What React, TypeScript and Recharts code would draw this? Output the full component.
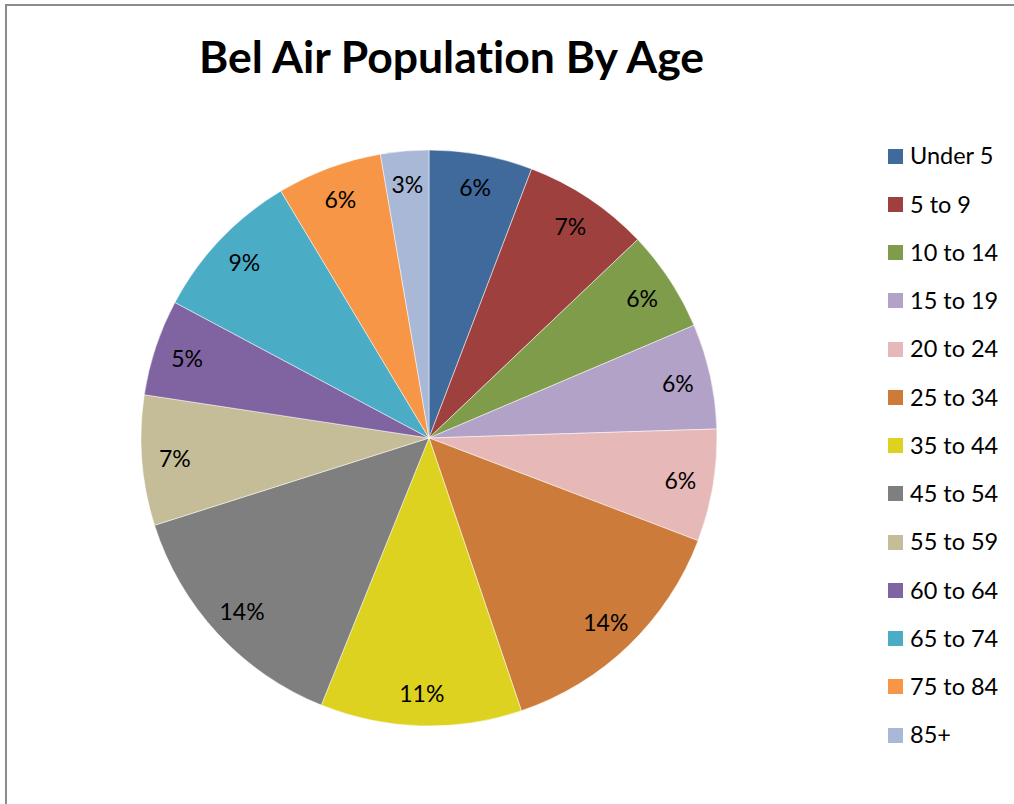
import { PieChart, Pie, Cell } from 'recharts';

const ageGroups = [
  'Under 5',
  '5 to 9',
  '10 to 14',
  '15 to 19',
  '20 to 24',
  '25 to 34',
  '35 to 44',
  '45 to 54',
  '55 to 59',
  '60 to 64',
  '65 to 74',
  '75 to 84',
  '85+',
];

// share of population, percent
const shares = [5.8, 7.1, 5.7, 5.9, 6.3, 14.0, 11.3, 14.0, 7.3, 5.4, 8.6, 5.9, 2.7];

const sliceColors = [
  '#3F6A9B',
  '#9E413E',
  '#7E9C4A',
  '#B3A2C7',
  '#E6B9B8',
  '#CD7B3A',
  '#DDD21F',
  '#7F7F7F',
  '#C4BD97',
  '#8064A2',
  '#4BACC6',
  '#F79646',
  '#A9B8D7',
];

const chartData = ageGroups.map((name, i) => ({ name, value: shares[i] }));

const FONT = 'Lato, "Open Sans", sans-serif';
const RAD = Math.PI / 180;

function renderLabel(props: any) {
  const { cx, cy, midAngle, outerRadius, percent } = props;
  const r = outerRadius * 0.885;
  const x = cx + r * Math.cos(-midAngle * RAD);
  const y = cy + r * Math.sin(-midAngle * RAD);
  return (
    <text
      x={x}
      y={y}
      fill="#000"
      fontSize={23}
      fontFamily={FONT}
      textAnchor="middle"
      dominantBaseline="central"
    >
      {`${Math.round(percent * 100)}%`}
    </text>
  );
}

function AgeLegend() {
  return (
    <div style={{ fontFamily: FONT, fontSize: 23.5, color: '#000', lineHeight: 1 }}>
      {ageGroups.map((name, i) => (
        <div
          key={name}
          style={{ display: 'flex', alignItems: 'center', height: 48.25 }}
        >
          <span
            style={{
              width: 15,
              height: 15,
              background: sliceColors[i],
              marginRight: 7,
              display: 'inline-block',
              flex: 'none',
            }}
          />
          <span style={{ whiteSpace: 'nowrap' }}>{name}</span>
        </div>
      ))}
    </div>
  );
}

export default function App() {
  return (
    <div
      style={{
        position: 'absolute',
        left: 0,
        top: 0,
        width: 1014,
        height: 804,
        overflow: 'hidden',
        background: '#fff',
      }}
    >
      <div
        style={{
          position: 'absolute',
          left: 5,
          top: 4,
          width: 1100,
          height: 900,
          border: '2px solid #8c8c8c',
        }}
      />
      <div
        style={{
          position: 'absolute',
          left: 0,
          top: 26,
          width: 903,
          textAlign: 'center',
          fontFamily: FONT,
          fontWeight: 700,
          fontSize: 44.5,
          lineHeight: '60px',
          color: '#000',
          fontVariantLigatures: 'none',
        }}
      >
        Bel Air Population By Age
      </div>
      <div style={{ position: 'absolute', left: 0, top: 0 }}>
        <PieChart width={1014} height={804} margin={{ top: 0, right: 0, bottom: 0, left: 0 }}>
          <Pie
            data={chartData}
            dataKey="value"
            nameKey="name"
            cx={429}
            cy={438}
            outerRadius={288}
            startAngle={90}
            endAngle={-270}
            stroke="#fff"
            strokeWidth={0.5}
            label={renderLabel}
            labelLine={false}
            isAnimationActive={false}
          >
            {chartData.map((d, i) => (
              <Cell key={d.name} fill={sliceColors[i]} />
            ))}
          </Pie>
        </PieChart>
      </div>
      <div style={{ position: 'absolute', left: 888, top: 132 }}>
        <AgeLegend />
      </div>
    </div>
  );
}
